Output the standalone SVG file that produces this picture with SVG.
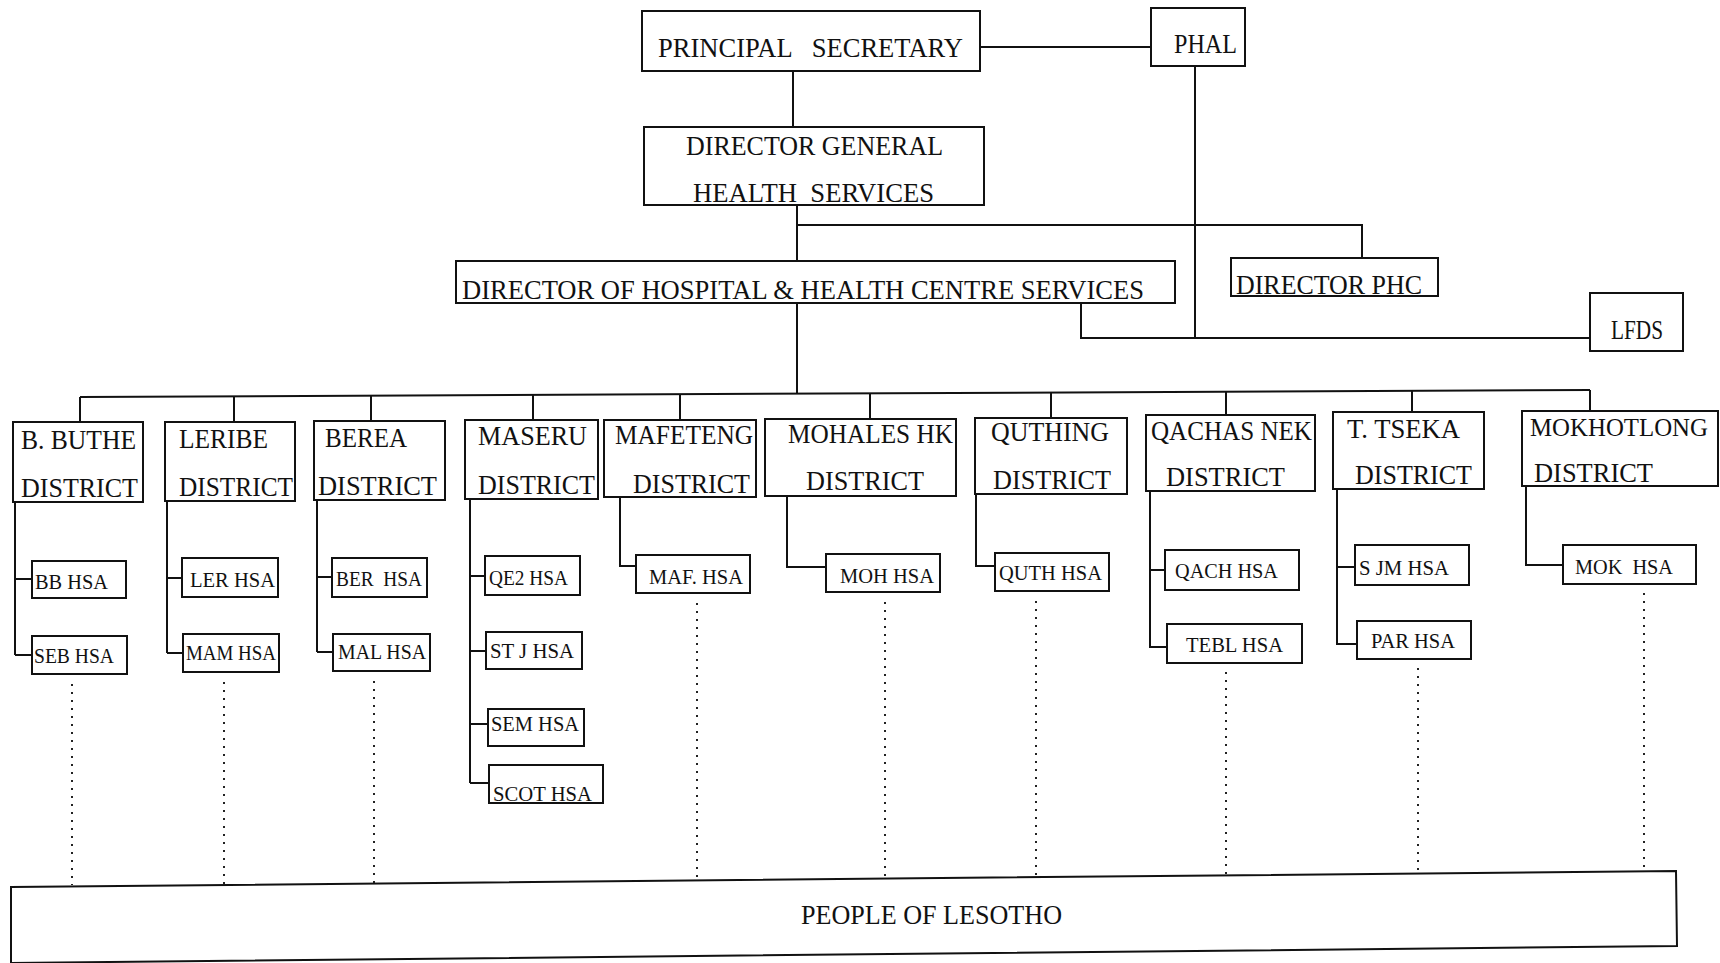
<svg xmlns="http://www.w3.org/2000/svg" width="1720" height="963" viewBox="0 0 1720 963">
<style>
.box{fill:#fff;stroke:#111;stroke-width:2}
.ln{fill:none;stroke:#111;stroke-width:2}
.dot{fill:none;stroke:#222;stroke-width:2;stroke-dasharray:2 6}
text{font-family:"Liberation Serif","Times New Roman",serif;fill:#111}
.t1{font-size:28px}
.t2{font-size:27px}
.t3{font-size:22px}
.pre{white-space:pre}
</style>
<rect width="1720" height="963" fill="#fff"/>
<g id="connectors">
<path class="ln" d="M980,47 H1151"/>
<path class="ln" d="M793,71 V127"/>
<path class="ln" d="M797,205 V261"/>
<path class="ln" d="M797,225 H1362 V258"/>
<path class="ln" d="M1195,66 V338"/>
<path class="ln" d="M1081,303 V338 H1590"/>
<path class="ln" d="M797,303 V394"/>
<path class="ln" d="M80,397 L1590,390"/>
<path class="ln" d="M80,397 V422 M234,396 V422 M371,395 V421 M533,394 V420 M680,394 V420 M870,393 V419 M1051,393 V418 M1226,392 V415 M1412,391 V412 M1590,390 V411"/>
<path class="ln" d="M15,502 V655 M15,579 H32 M15,655 H32"/>
<path class="ln" d="M167,501 V653 M167,578 H182 M167,653 H183"/>
<path class="ln" d="M317,500 V652 M317,577 H332 M317,652 H333"/>
<path class="ln" d="M470,499 V783 M470,576 H485 M470,651 H486 M470,724 H488 M470,783 H489"/>
<path class="ln" d="M620,497 V566 H636"/>
<path class="ln" d="M787,496 V567 H826"/>
<path class="ln" d="M976,494 V566 H995"/>
<path class="ln" d="M1150,491 V647 H1167 M1150,570 H1165"/>
<path class="ln" d="M1337,489 V644 H1357 M1337,567 H1355"/>
<path class="ln" d="M1526,486 V565 H1563"/>
<path class="dot" d="M72,684 V885 M224,682 V884 M374,681 V883 M697,603 V880 M885,602 V878 M1036,601 V877 M1226,672 V875 M1418,668 V873 M1644,593 V871"/>
</g>
<g id="principal-secretary"><rect class="box" x="642" y="11" width="338" height="60"/><text class="t1 pre" x="658" y="57" textLength="305" lengthAdjust="spacingAndGlyphs">PRINCIPAL   SECRETARY</text></g>
<g id="phal"><rect class="box" x="1151" y="8" width="94" height="58"/><text class="t2" x="1174" y="53" textLength="63" lengthAdjust="spacingAndGlyphs">PHAL</text></g>
<g id="director-general"><rect class="box" x="644" y="127" width="340" height="78"/><text class="t1" x="686" y="155" textLength="257" lengthAdjust="spacingAndGlyphs">DIRECTOR GENERAL</text><text class="t1 pre" x="693" y="202" textLength="241" lengthAdjust="spacingAndGlyphs">HEALTH  SERVICES</text></g>
<g id="director-phc"><rect class="box" x="1231" y="258" width="207" height="38"/><text class="t1" x="1236" y="294" textLength="186" lengthAdjust="spacingAndGlyphs">DIRECTOR PHC</text></g>
<g id="director-hospital"><rect class="box" x="456" y="261" width="719" height="42"/><text class="t1" x="462" y="299" textLength="682" lengthAdjust="spacingAndGlyphs">DIRECTOR OF HOSPITAL &amp; HEALTH CENTRE SERVICES</text></g>
<g id="lfds"><rect class="box" x="1590" y="293" width="93" height="58"/><text class="t2" x="1611" y="339" textLength="52" lengthAdjust="spacingAndGlyphs">LFDS</text></g>

<g id="d-bbuthe"><rect class="box" x="13" y="422" width="130" height="80"/><text class="t1" x="21" y="449" textLength="115" lengthAdjust="spacingAndGlyphs">B. BUTHE</text><text class="t1" x="21" y="497" textLength="117" lengthAdjust="spacingAndGlyphs">DISTRICT</text></g>
<g id="d-leribe"><rect class="box" x="165" y="422" width="130" height="79"/><text class="t1" x="179" y="448" textLength="89" lengthAdjust="spacingAndGlyphs">LERIBE</text><text class="t1" x="179" y="496" textLength="114" lengthAdjust="spacingAndGlyphs">DISTRICT</text></g>
<g id="d-berea"><rect class="box" x="314" y="421" width="131" height="79"/><text class="t1" x="325" y="447" textLength="82" lengthAdjust="spacingAndGlyphs">BEREA</text><text class="t1" x="318" y="495" textLength="119" lengthAdjust="spacingAndGlyphs">DISTRICT</text></g>
<g id="d-maseru"><rect class="box" x="465" y="420" width="133" height="79"/><text class="t1" x="478" y="445" textLength="109" lengthAdjust="spacingAndGlyphs">MASERU</text><text class="t1" x="478" y="494" textLength="117" lengthAdjust="spacingAndGlyphs">DISTRICT</text></g>
<g id="d-mafeteng"><rect class="box" x="604" y="420" width="152" height="77"/><text class="t1" x="615" y="444" textLength="138" lengthAdjust="spacingAndGlyphs">MAFETENG</text><text class="t1" x="633" y="493" textLength="117" lengthAdjust="spacingAndGlyphs">DISTRICT</text></g>
<g id="d-mohales"><rect class="box" x="765" y="419" width="191" height="77"/><text class="t1" x="788" y="443" textLength="165" lengthAdjust="spacingAndGlyphs">MOHALES HK</text><text class="t1" x="806" y="490" textLength="118" lengthAdjust="spacingAndGlyphs">DISTRICT</text></g>
<g id="d-quthing"><rect class="box" x="975" y="418" width="152" height="76"/><text class="t1" x="991" y="441" textLength="118" lengthAdjust="spacingAndGlyphs">QUTHING</text><text class="t1" x="993" y="489" textLength="118" lengthAdjust="spacingAndGlyphs">DISTRICT</text></g>
<g id="d-qachas"><rect class="box" x="1146" y="415" width="169" height="76"/><text class="t1" x="1151" y="440" textLength="161" lengthAdjust="spacingAndGlyphs">QACHAS NEK</text><text class="t1" x="1166" y="486" textLength="119" lengthAdjust="spacingAndGlyphs">DISTRICT</text></g>
<g id="d-tseka"><rect class="box" x="1333" y="412" width="151" height="77"/><text class="t1" x="1347" y="438" textLength="113" lengthAdjust="spacingAndGlyphs">T. TSEKA</text><text class="t1" x="1355" y="484" textLength="117" lengthAdjust="spacingAndGlyphs">DISTRICT</text></g>
<g id="d-mokhotlong"><rect class="box" x="1522" y="411" width="196" height="75"/><text x="1530" y="436" font-size="25" textLength="178" lengthAdjust="spacingAndGlyphs">MOKHOTLONG</text><text class="t1" x="1534" y="482" textLength="119" lengthAdjust="spacingAndGlyphs">DISTRICT</text></g>

<g id="h-bb"><rect class="box" x="32" y="561" width="94" height="37"/><text class="t3" x="35" y="589" textLength="73" lengthAdjust="spacingAndGlyphs">BB HSA</text></g>
<g id="h-seb"><rect class="box" x="32" y="636" width="95" height="38"/><text class="t3" x="34" y="663" textLength="80" lengthAdjust="spacingAndGlyphs">SEB HSA</text></g>
<g id="h-ler"><rect class="box" x="182" y="558" width="96" height="39"/><text class="t3" x="190" y="587" textLength="85" lengthAdjust="spacingAndGlyphs">LER HSA</text></g>
<g id="h-mam"><rect class="box" x="183" y="634" width="96" height="38"/><text class="t3" x="186" y="660" textLength="90" lengthAdjust="spacingAndGlyphs">MAM HSA</text></g>
<g id="h-ber"><rect class="box" x="332" y="558" width="95" height="39"/><text class="t3 pre" x="336" y="586" textLength="86" lengthAdjust="spacingAndGlyphs">BER  HSA</text></g>
<g id="h-mal"><rect class="box" x="333" y="634" width="97" height="37"/><text class="t3" x="338" y="659" textLength="88" lengthAdjust="spacingAndGlyphs">MAL HSA</text></g>
<g id="h-qe2"><rect class="box" x="485" y="556" width="95" height="39"/><text class="t3" x="489" y="585" textLength="79" lengthAdjust="spacingAndGlyphs">QE2 HSA</text></g>
<g id="h-stj"><rect class="box" x="486" y="632" width="96" height="37"/><text class="t3" x="490" y="658" textLength="84" lengthAdjust="spacingAndGlyphs">ST J HSA</text></g>
<g id="h-sem"><rect class="box" x="488" y="709" width="96" height="37"/><text class="t3" x="491" y="731" textLength="88" lengthAdjust="spacingAndGlyphs">SEM HSA</text></g>
<g id="h-scot"><rect class="box" x="489" y="765" width="114" height="38"/><text class="t3" x="493" y="801" textLength="99" lengthAdjust="spacingAndGlyphs">SCOT HSA</text></g>
<g id="h-maf"><rect class="box" x="636" y="555" width="114" height="38"/><text class="t3" x="649" y="584" textLength="94" lengthAdjust="spacingAndGlyphs">MAF. HSA</text></g>
<g id="h-moh"><rect class="box" x="826" y="554" width="114" height="38"/><text class="t3" x="840" y="583" textLength="94" lengthAdjust="spacingAndGlyphs">MOH HSA</text></g>
<g id="h-quth"><rect class="box" x="995" y="553" width="114" height="38"/><text class="t3" x="999" y="580" textLength="103" lengthAdjust="spacingAndGlyphs">QUTH HSA</text></g>
<g id="h-qach"><rect class="box" x="1165" y="550" width="134" height="40"/><text class="t3" x="1175" y="578" textLength="103" lengthAdjust="spacingAndGlyphs">QACH HSA</text></g>
<g id="h-tebl"><rect class="box" x="1167" y="624" width="135" height="39"/><text class="t3" x="1186" y="652" textLength="97" lengthAdjust="spacingAndGlyphs">TEBL HSA</text></g>
<g id="h-sjm"><rect class="box" x="1355" y="545" width="114" height="40"/><text class="t3" x="1359" y="575" textLength="90" lengthAdjust="spacingAndGlyphs">S JM HSA</text></g>
<g id="h-par"><rect class="box" x="1357" y="621" width="114" height="38"/><text class="t3" x="1371" y="648" textLength="84" lengthAdjust="spacingAndGlyphs">PAR HSA</text></g>
<g id="h-mok"><rect class="box" x="1563" y="545" width="133" height="39"/><text class="t3 pre" x="1575" y="574" textLength="98" lengthAdjust="spacingAndGlyphs">MOK  HSA</text></g>

<g id="people"><path class="box" d="M11,887 L1676,871 L1677,946 L11,963 Z"/><text class="t2" x="801" y="924" textLength="261" lengthAdjust="spacingAndGlyphs">PEOPLE OF LESOTHO</text></g>
</svg>
